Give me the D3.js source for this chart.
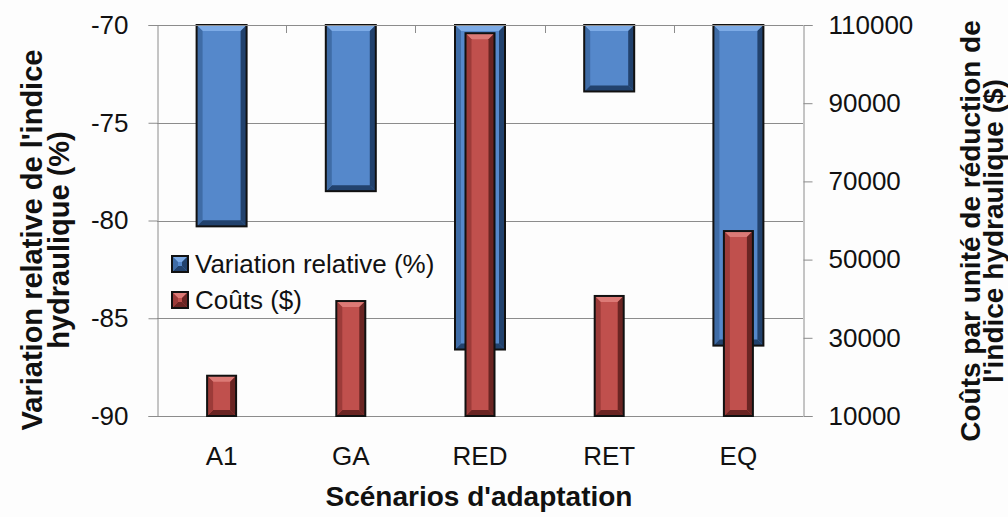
<!DOCTYPE html>
<html>
<head>
<meta charset="utf-8">
<script src="https://cdn.jsdelivr.net/npm/d3@7"></script>
<style>
  body { margin: 0; background: #fdfdfd; }
  svg { display: block; font-family: "Liberation Sans", Arial, sans-serif; }
</style>
</head>
<body>
<div class="chart"></div>
<script>
const categories = ["A1", "GA", "RED", "RET", "EQ"];
const variation = [-80.3, -78.5, -86.6, -73.4, -86.4];
const couts = [20300, 39400, 107900, 40700, 57300];
const leftTicks = [-90, -85, -80, -75, -70];
const rightTicks = [10000, 30000, 50000, 70000, 90000, 110000];
const seriesNames = ["Variation relative (%)", "Coûts ($)"];

const width = 1008, height = 517;
const plot = {left: 157, right: 803, top: 25, bottom: 416};

const svg = d3.select(".chart").append("svg")
  .attr("width", width)
  .attr("height", height);

svg.append("rect").attr("width", width).attr("height", height).attr("fill", "#fdfdfd");

const x = d3.scaleBand().domain(categories).range([plot.left, plot.right]);
const yL = d3.scaleLinear().domain([-90, -70]).range([plot.bottom, plot.top]);
const yR = d3.scaleLinear().domain([10000, 110000]).range([plot.bottom, plot.top]);

const blue = {main: "#5588cb", light: "#7dabe6", side: "#3f6ca6", dark: "#22426d"};
const red = {main: "#c0504d", light: "#dc7a76", side: "#9c3b39", dark: "#6a2523"};

// bar with an Excel-like bevel
function bevelBar(g, bx, by, bw, bh, c) {
  const b = Math.min(6, bh / 2, bw / 2);
  const grp = g.append("g");
  grp.append("rect").attr("x", bx).attr("y", by).attr("width", bw).attr("height", bh).attr("fill", c.main);
  const poly = (pts, fill) => grp.append("polygon").attr("points", pts.map(p => p.join(",")).join(" ")).attr("fill", fill);
  poly([[bx, by], [bx + bw, by], [bx + bw - b, by + b], [bx + b, by + b]], c.light);
  poly([[bx, by + bh], [bx + bw, by + bh], [bx + bw - b, by + bh - b], [bx + b, by + bh - b]], c.dark);
  poly([[bx, by], [bx + b, by + b], [bx + b, by + bh - b], [bx, by + bh]], c.side);
  poly([[bx + bw, by], [bx + bw - b, by + b], [bx + bw - b, by + bh - b], [bx + bw, by + bh]], c.dark);
  grp.append("rect").attr("x", bx).attr("y", by).attr("width", bw).attr("height", bh)
    .attr("fill", "none").attr("stroke", "#111").attr("stroke-width", 2);
}

// gridlines
svg.append("g").selectAll("line")
  .data(leftTicks)
  .join("line")
    .attr("x1", plot.left).attr("x2", plot.right)
    .attr("y1", d => Math.round(yL(d)) + 0.5).attr("y2", d => Math.round(yL(d)) + 0.5)
    .attr("stroke", "#8c8c8c");

// category axis at the top (value axis crosses at -70)
const catTicks = categories.slice(1).map(c => x(c));
svg.append("g").selectAll("line")
  .data(catTicks)
  .join("line")
    .attr("x1", d => Math.round(d) + 0.5).attr("x2", d => Math.round(d) + 0.5)
    .attr("y1", plot.top).attr("y2", plot.top + 8)
    .attr("stroke", "#8c8c8c");

// blue bars hanging from -70
const bars = svg.append("g");
categories.forEach((c, i) => {
  const cx = x(c) + x.bandwidth() / 2;
  const bw = 50;
  const y0 = yL(-70), y1 = yL(variation[i]);
  bevelBar(bars, cx - bw / 2, y0, bw, y1 - y0, blue);
});
// red bars on the secondary axis
categories.forEach((c, i) => {
  const cx = x(c) + x.bandwidth() / 2;
  const bw = 29;
  const y0 = yR(couts[i]), y1 = yR(10000);
  bevelBar(bars, cx - bw / 2, y0, bw, y1 - y0, red);
});

// left axis
const axL = svg.append("g")
  .attr("transform", `translate(${plot.left + 0.5},0)`)
  .call(d3.axisLeft(yL).tickValues(leftTicks).tickSize(9).tickPadding(20));
axL.select(".domain").attr("stroke", "#8c8c8c");
axL.selectAll(".tick line").attr("stroke", "#8c8c8c");
axL.selectAll("text").attr("font-size", 26).attr("fill", "#111").style("font-family", "Liberation Sans, Arial, sans-serif")
  .text(d => String(d));

// right axis
const axR = svg.append("g")
  .attr("transform", `translate(${plot.right + 0.5},0)`)
  .call(d3.axisRight(yR).tickValues(rightTicks).tickSize(9).tickPadding(16).tickFormat(d3.format("d")));
axR.select(".domain").attr("stroke", "#8c8c8c");
axR.selectAll(".tick line").attr("stroke", "#8c8c8c");
axR.selectAll("text").attr("font-size", 26).attr("fill", "#111").style("font-family", "Liberation Sans, Arial, sans-serif");

// top line
svg.append("line")
  .attr("x1", plot.left).attr("x2", plot.right)
  .attr("y1", plot.top + 0.5).attr("y2", plot.top + 0.5)
  .attr("stroke", "#8c8c8c");

// category labels
svg.append("g").selectAll("text")
  .data(categories)
  .join("text")
    .attr("x", d => x(d) + x.bandwidth() / 2)
    .attr("y", 465)
    .attr("text-anchor", "middle")
    .attr("font-size", 26)
    .attr("fill", "#111")
    .text(d => d);

// axis titles
svg.append("text")
  .attr("x", 479).attr("y", 506)
  .attr("text-anchor", "middle")
  .attr("font-size", 28).attr("font-weight", "bold").attr("fill", "#111")
  .text("Scénarios d'adaptation");

const leftTitle = svg.append("text")
  .attr("transform", "translate(0,240) rotate(-90)")
  .attr("text-anchor", "middle")
  .attr("font-size", 29).attr("font-weight", "bold").attr("fill", "#111");
leftTitle.append("tspan").attr("x", 0).attr("y", 42).text("Variation relative de l'indice");
leftTitle.append("tspan").attr("x", 0).attr("y", 69).text("hydraulique (%)");

const rightTitle = svg.append("text")
  .attr("transform", "translate(0,231) rotate(-90)")
  .attr("text-anchor", "middle")
  .attr("font-size", 28).attr("font-weight", "bold").attr("fill", "#111");
rightTitle.append("tspan").attr("x", 0).attr("y", 980).text("Coûts par unité de réduction de");
rightTitle.append("tspan").attr("x", 0).attr("y", 1003).text("l'indice hydraulique ($)");

// legend
const legend = svg.append("g");
[blue, red].forEach((c, i) => {
  const ly = 264 + i * 36;
  bevelBar(legend, 172, ly - 8, 16, 16, c);
  legend.append("text")
    .attr("x", 195).attr("y", ly + 9)
    .attr("font-size", 26).attr("fill", "#111")
    .text(seriesNames[i]);
});
</script>
</body>
</html>
